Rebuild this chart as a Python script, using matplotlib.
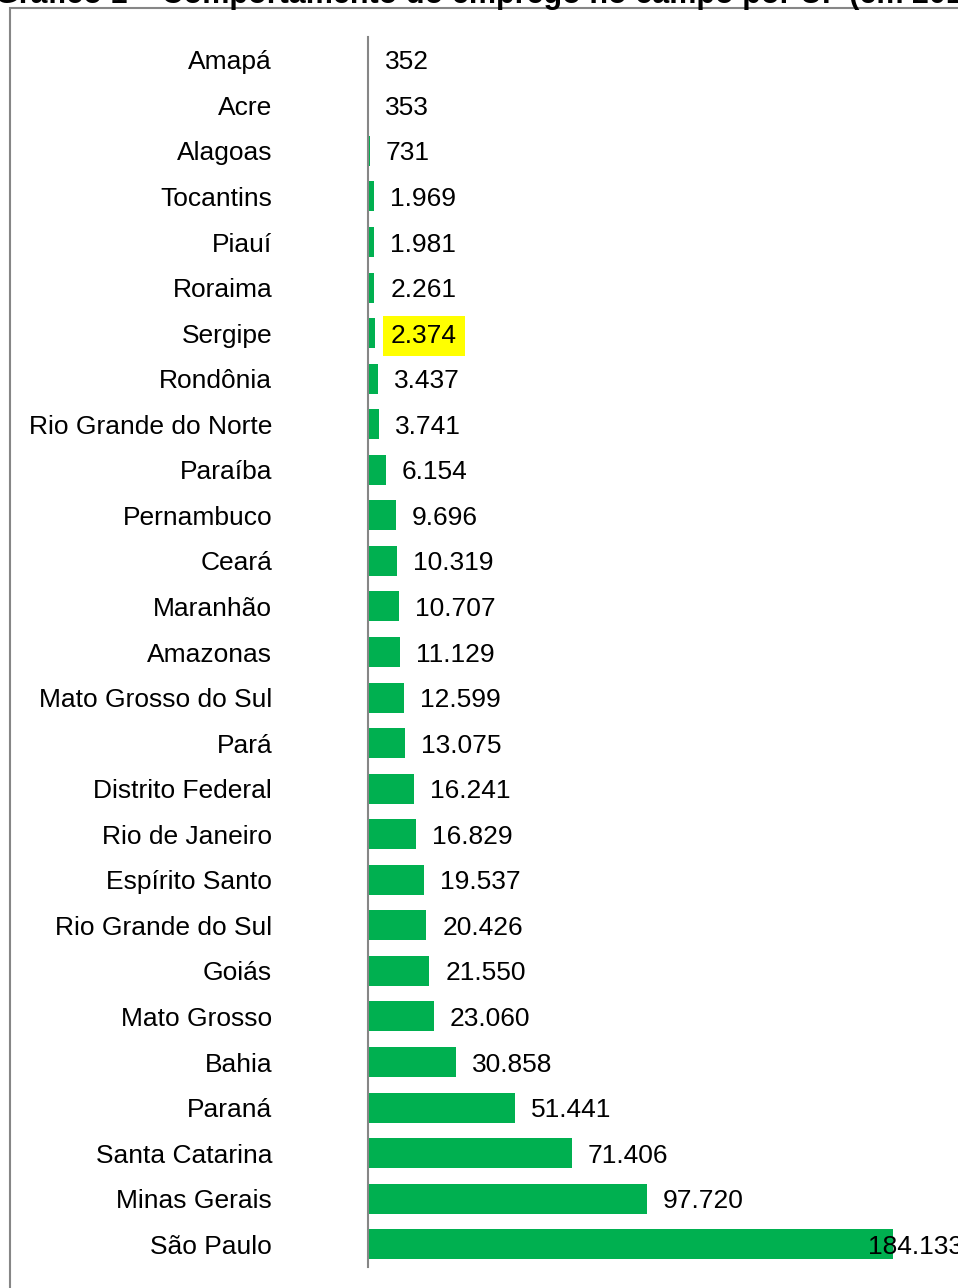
import matplotlib.pyplot as plt
from matplotlib.patches import Rectangle

plt.rcParams['font.family'] = ['Liberation Sans', 'DejaVu Sans']

# dados (ordem de cima para baixo)
estados = ['Amapá', 'Acre', 'Alagoas', 'Tocantins', 'Piauí', 'Roraima', 'Sergipe',
           'Rondônia', 'Rio Grande do Norte', 'Paraíba', 'Pernambuco', 'Ceará',
           'Maranhão', 'Amazonas', 'Mato Grosso do Sul', 'Pará', 'Distrito Federal',
           'Rio de Janeiro', 'Espírito Santo', 'Rio Grande do Sul', 'Goiás',
           'Mato Grosso', 'Bahia', 'Paraná', 'Santa Catarina', 'Minas Gerais',
           'São Paulo']
valores = [352, 353, 731, 1969, 1981, 2261, 2374, 3437, 3741, 6154, 9696, 10319,
           10707, 11129, 12599, 13075, 16241, 16829, 19537, 20426, 21550, 23060,
           30858, 51441, 71406, 97720, 184133]
destaque = 'Sergipe'

W, H = 958, 1288
fig = plt.figure(figsize=(W / 100, H / 100), dpi=100)

left, right = 368 / W, 1.0
bottom, top = (H - 1267) / H, (H - 37) / H
ax = fig.add_axes([left, bottom, right - left, top - bottom])

xmax = 207000
px_per_unit = (right - left) * W / xmax
y = list(range(len(estados)))

ax.barh(y, valores, height=0.66, color='#00B050')
ax.set_xlim(0, xmax)
ax.set_ylim(len(estados) - 0.5, -0.5)
ax.set_yticks(y)
ax.set_yticklabels(estados, fontsize=19)
ax.tick_params(axis='y', length=0, pad=69)
ax.set_xticks([])
for s in ['top', 'right', 'bottom']:
    ax.spines[s].set_visible(False)
ax.spines['left'].set_color('#868686')
ax.spines['left'].set_linewidth(1.5)

gap = 16 / px_per_unit
limite = 500 / px_per_unit
for yi, v, nome in zip(y, valores, estados):
    txt = f'{v:,}'.replace(',', '.')
    xt = min(v + gap, limite)
    kw = {}
    if nome == destaque:
        kw['bbox'] = dict(boxstyle='square,pad=0.3', facecolor='#FFFF00', edgecolor='none')
    ax.text(xt, yi, txt, va='center_baseline', ha='left', fontsize=19, clip_on=False, **kw)

# moldura do gráfico
fig.patches.append(Rectangle((10 / W, -0.1), 1.2, 1.1 - 8 / H, transform=fig.transFigure,
                             fill=False, edgecolor='#868686', linewidth=1.5))

# título (cortado no topo)
fig.text(-0.005, 1 - 3 / H, 'Gráfico 1 – Comportamento do emprego no campo por UF (em 2013)',
         fontsize=22, fontweight='bold', ha='left', va='baseline')

fig.savefig('out.png', dpi=100)
